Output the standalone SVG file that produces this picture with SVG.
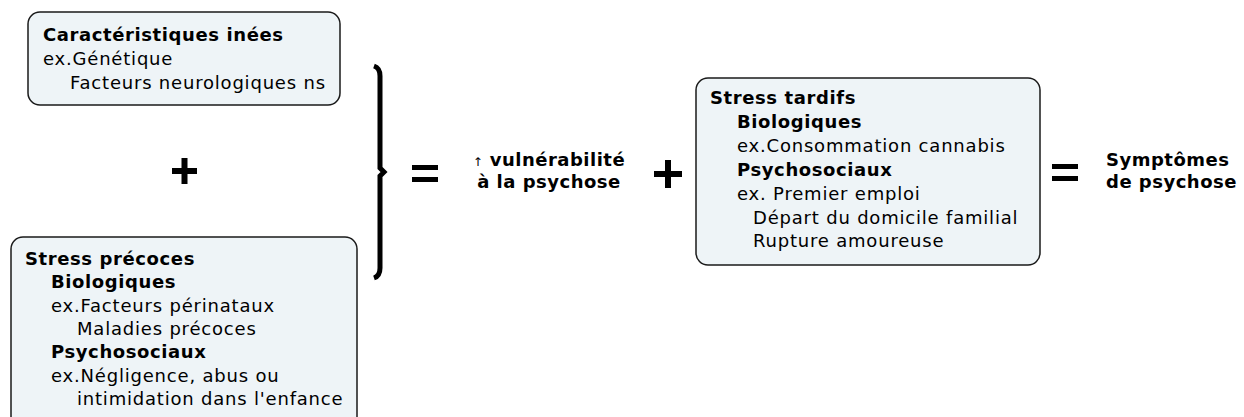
<svg xmlns="http://www.w3.org/2000/svg" width="1244" height="417" viewBox="0 0 1244 417">
  <style>
    .box { fill: #eef4f7; stroke: #1a1a1a; stroke-width: 1.5; }
    text { font-family: "DejaVu Sans", Verdana, sans-serif; fill: #000; }
    .t { font-size: 18px; letter-spacing: 0.8px; }
    .b { font-size: 18px; font-weight: bold; letter-spacing: 0.6px; }
    .lbl { font-size: 18px; font-weight: bold; letter-spacing: 0.5px; }
    .arrow { font-size: 12px; font-weight: normal; letter-spacing: 0; fill: #000; }
    .op { fill: #000; }
  </style>
  <rect width="1244" height="417" fill="#fff"/>

  <g id="innate">
    <rect class="box" x="28" y="12" width="312" height="93" rx="12"/>
    <text class="b" x="43" y="41">Caractéristiques inées</text>
    <text class="t" x="43" y="65">ex.Génétique</text>
    <text class="t" x="70" y="89">Facteurs neurologiques ns</text>
  </g>

  <g id="early-stress">
    <rect class="box" x="11" y="237" width="346" height="200" rx="12"/>
    <text class="b" x="25" y="265">Stress précoces</text>
    <text class="b" x="51" y="288">Biologiques</text>
    <text class="t" x="51" y="312">ex.Facteurs périnataux</text>
    <text class="t" x="77" y="335">Maladies précoces</text>
    <text class="b" x="51" y="358">Psychosociaux</text>
    <text class="t" x="51" y="382">ex.Négligence, abus ou</text>
    <text class="t" x="77" y="405">intimidation dans l'enfance</text>
  </g>

  <g id="late-stress">
    <rect class="box" x="696" y="78" width="344" height="187" rx="12"/>
    <text class="b" x="710" y="104">Stress tardifs</text>
    <text class="b" x="737" y="128">Biologiques</text>
    <text class="t" x="737" y="152">ex.Consommation cannabis</text>
    <text class="b" x="737" y="176">Psychosociaux</text>
    <text class="t" x="737" y="200">ex. Premier emploi</text>
    <text class="t" x="753" y="224">Départ du domicile familial</text>
    <text class="t" x="753" y="247">Rupture amoureuse</text>
  </g>

  <g id="vulnerability">
    <text class="lbl" x="549" y="166" text-anchor="middle"><tspan class="arrow">↑</tspan> vulnérabilité</text>
    <text class="lbl" x="549" y="188" text-anchor="middle">à la psychose</text>
  </g>

  <g id="symptoms">
    <text class="lbl" x="1106" y="166">Symptômes</text>
    <text class="lbl" x="1106" y="188">de psychose</text>
  </g>

  <g id="connectors">
    <!-- plus joining the two early factors -->
    <rect class="op" x="172" y="168" width="25" height="6"/>
    <rect class="op" x="181.5" y="158" width="6" height="26"/>
    <!-- brace grouping the early factors -->
    <path d="M374 66 Q380 68 380 76 L380 168 L384 172 L380 176 L380 268 Q380 276 374 278" fill="none" stroke="#000" stroke-width="5" stroke-linejoin="miter"/>
    <!-- equals after the brace -->
    <rect class="op" x="412" y="165" width="26" height="5"/>
    <rect class="op" x="412" y="177" width="26" height="5"/>
    <!-- plus before late stress -->
    <rect class="op" x="654" y="171" width="28" height="6"/>
    <rect class="op" x="665" y="160" width="6" height="28"/>
    <!-- equals before symptoms -->
    <rect class="op" x="1052" y="164" width="26" height="5"/>
    <rect class="op" x="1052" y="176" width="26" height="5"/>
  </g>
</svg>
